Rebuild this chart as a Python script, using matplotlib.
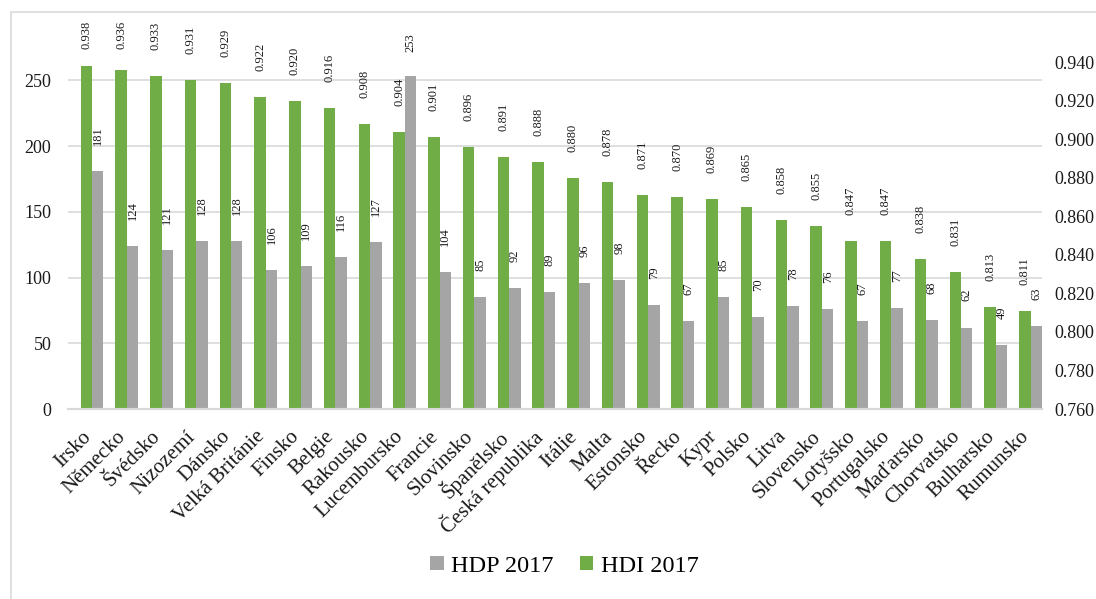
import numpy as np
import matplotlib.pyplot as plt
from matplotlib.patches import Rectangle
from matplotlib.transforms import ScaledTranslation

plt.rcParams['font.family'] = ['Liberation Serif', 'DejaVu Serif']

zeme = ["Irsko", "Německo", "Švédsko", "Nizozemí", "Dánsko", "Velká Británie", "Finsko",
        "Belgie", "Rakousko", "Lucembursko", "Francie", "Slovinsko", "Španělsko",
        "Česká republika", "Itálie", "Malta", "Estonsko", "Řecko", "Kypr", "Polsko",
        "Litva", "Slovensko", "Lotyšsko", "Portugalsko", "Maďarsko", "Chorvatsko",
        "Bulharsko", "Rumunsko"]
hdi_2017 = [0.938, 0.936, 0.933, 0.931, 0.929, 0.922, 0.920, 0.916, 0.908, 0.904, 0.901,
            0.896, 0.891, 0.888, 0.880, 0.878, 0.871, 0.870, 0.869, 0.865, 0.858, 0.855,
            0.847, 0.847, 0.838, 0.831, 0.813, 0.811]
hdp_2017 = [181, 124, 121, 128, 128, 106, 109, 116, 127, 253, 104, 85, 92, 89, 96, 98,
            79, 67, 85, 70, 78, 76, 67, 77, 68, 62, 49, 63]

zelena = '#70AD47'
seda = '#A5A5A5'

fig = plt.figure(figsize=(10.96, 5.99), dpi=100)
# ramecek grafu
fig.patches.append(Rectangle((11 / 1096, -0.1), 1.2, 1 - 12 / 599 + 0.1,
                             transform=fig.transFigure, fill=False,
                             edgecolor='#D9D9D9', linewidth=1.2))

ax = fig.add_axes([68 / 1096, 1 - 409 / 599, (1042 - 68) / 1096, (409 - 41) / 599])
ax2 = ax.twinx()

x = np.arange(len(zeme))
w = 0.33

b_hdp = ax.bar(x + w / 2, hdp_2017, w, color=seda, label='HDP 2017', zorder=2)
b_hdi = ax2.bar(x - w / 2, hdi_2017, w, color=zelena, label='HDI 2017', zorder=2)

ax.set_ylim(0, 280)
ax2.set_ylim(0.76, 0.951)
ax.set_xlim(-0.69, len(zeme) - 1 + w)
ax.set_yticks(np.arange(0, 251, 50))
ax2.set_yticks(np.arange(0.76, 0.941, 0.02))
ax2.set_yticklabels([f"{v:.3f}" for v in np.arange(0.76, 0.941, 0.02)])

ax.yaxis.grid(True, color='#D9D9D9', linewidth=1.2, zorder=0)
ax.set_axisbelow(True)
for a in (ax, ax2):
    for s in ['top', 'left', 'right']:
        a.spines[s].set_visible(False)
    a.spines['bottom'].set_color('#D9D9D9')
    a.spines['bottom'].set_linewidth(1.5)
    a.tick_params(length=0, labelsize=13, colors='#1a1a1a')
ax.tick_params(axis='y', pad=12)
ax2.tick_params(axis='y', pad=9)

ax.set_xticks(x)
ax.set_xticklabels(zeme, rotation=45, ha='right', va='center', rotation_mode='anchor',
                   fontsize=15)
ax.tick_params(axis='x', pad=18)
posun = ScaledTranslation(-0.04, 0, fig.dpi_scale_trans)
for lbl in ax.get_xticklabels():
    lbl.set_transform(lbl.get_transform() + posun)

# popisky hodnot (vse na ax2, aby byly nad sloupci)
for xi, v in zip(x, hdp_2017):
    ax2.text(xi + w / 2, min(v + 19.8, 272), str(v), rotation=90, ha='center',
             va='bottom', fontsize=9, color='#1a1a1a', transform=ax.transData)
for xi, v in zip(x, hdi_2017):
    ax2.text(xi - w / 2, min(v + 0.0135, 0.947), f"{v:.3f}", rotation=90, ha='center',
             va='bottom', fontsize=9, color='#1a1a1a')

fig.legend(handles=[b_hdp, b_hdi], labels=['HDP 2017', 'HDI 2017'], loc='center',
           bbox_to_anchor=(0.515, 0.055), ncol=2, frameon=False, fontsize=17.5,
           handlelength=0.55, handleheight=0.55, handletextpad=0.3, columnspacing=1.1)

plt.savefig('out.png', dpi=100)
